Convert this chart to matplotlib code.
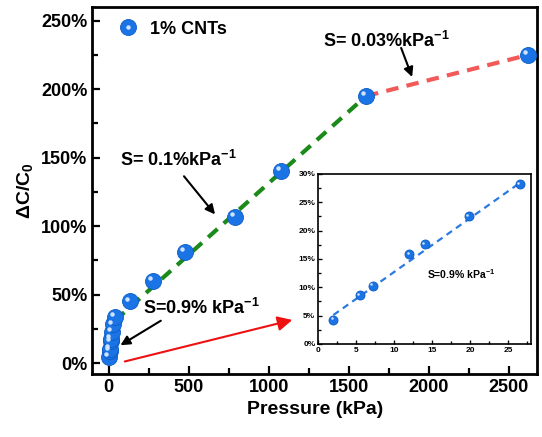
import matplotlib
matplotlib.use('Agg')
import matplotlib.pyplot as plt
from matplotlib.lines import Line2D
from matplotlib.legend_handler import HandlerTuple
from matplotlib.ticker import FuncFormatter, MultipleLocator
from matplotlib.transforms import offset_copy

plt.rcParams['font.family'] = ['Liberation Sans', 'DejaVu Sans']
plt.rcParams['font.weight'] = 'bold'
plt.rcParams['mathtext.fontset'] = 'custom'
plt.rcParams['mathtext.rm'] = 'Liberation Sans:bold'
plt.rcParams['mathtext.bf'] = 'Liberation Sans:bold'
plt.rcParams['mathtext.it'] = 'Liberation Sans:bold'

# low-pressure region (also shown in the inset)
low_p = [2, 5.5, 7.2, 12, 14, 19.8, 26.5]
low_c = [4.2, 8.6, 10.2, 15.8, 17.6, 22.5, 28.2]
# higher pressure points
high_p = [40, 134, 275, 478, 790, 1078, 1609, 2622]
high_c = [34, 45, 60, 81, 107, 140, 195, 225]

# fitted segments (endpoints)
fit_mid_p = [40, 1609]
fit_mid_c = [31, 195]
fit_high_p = [1609, 2622]
fit_high_c = [195, 225]
fit_low_p = [2, 26.5]
fit_low_c = [5.1, 28.4]

BLUE = '#1a74e6'
EDGE = '#0d5cc4'
HILITE = '#cfe3ff'


def spheres(ax, fig, x, y, ms):
    ax.plot(x, y, 'o', ms=ms, color=BLUE, mec=EDGE, mew=0.6, zorder=5)
    tr = offset_copy(ax.transData, fig=fig, x=-ms * 0.18, y=ms * 0.18, units='points')
    ax.plot(x, y, 'o', ms=ms * 0.28, color=HILITE, mew=0, transform=tr, zorder=6)


def style_axes(ax, lw, major_len, minor_len, size):
    for s in ax.spines.values():
        s.set_linewidth(lw)
    ax.tick_params(which='both', direction='in', width=lw * 0.8, top=False, right=False)
    ax.tick_params(which='major', length=major_len, labelsize=size)
    ax.tick_params(which='minor', length=minor_len)
    for lab in ax.get_xticklabels() + ax.get_yticklabels():
        lab.set_fontweight('bold')


fig = plt.figure(figsize=(5.42, 4.37), dpi=100)
ax = fig.add_axes([0.170, 0.144, 0.821, 0.840])

ax.plot(fit_mid_p, fit_mid_c, '--', color='#1b8a1b', lw=3, dashes=(3, 2), zorder=3)
ax.plot(fit_high_p, fit_high_c, '--', color='#f25a5a', lw=3, dashes=(3, 2), zorder=3)
spheres(ax, fig, low_p, low_c, 11.5)
spheres(ax, fig, high_p, high_c, 11.5)

ax.set_xlim(-103, 2678)
ax.set_ylim(-8, 260)
ax.xaxis.set_major_locator(MultipleLocator(500))
ax.xaxis.set_minor_locator(MultipleLocator(250))
ax.yaxis.set_major_locator(MultipleLocator(50))
ax.yaxis.set_minor_locator(MultipleLocator(25))
ax.yaxis.set_major_formatter(FuncFormatter(lambda v, p: f'{v:.0f}%'))
style_axes(ax, 2, 6, 4, 13)
ax.set_xlabel('Pressure (kPa)', fontsize=14, fontweight='bold')
ax.set_ylabel(r'ΔC/C$_0$', fontsize=14, fontweight='bold', labelpad=4)

h1 = Line2D([], [], ls='', marker='o', ms=11.5, color=BLUE, mec=EDGE, mew=0.6)
h2 = Line2D([], [], ls='', marker='o', ms=3.2, color=HILITE, mew=0)
ax.legend([(h1, h2)], ['1% CNTs'], handler_map={tuple: HandlerTuple(ndivide=1)},
          loc='center left', bbox_to_anchor=(0.02, 0.94), frameon=False,
          prop={'size': 13, 'weight': 'bold'}, handletextpad=0.6, handlelength=1.2)

arrow = dict(arrowstyle='-|>', color='black', lw=1.5, mutation_scale=14)
ax.text(72, 148, r'S= 0.1%kPa$^{-1}$', fontsize=13, fontweight='bold', va='center')
ax.annotate('', xy=(676, 107), xytext=(460, 138), arrowprops=arrow)
ax.text(1340, 235, r'S= 0.03%kPa$^{-1}$', fontsize=13, fontweight='bold', va='center')
ax.annotate('', xy=(1903, 207), xytext=(1822, 232), arrowprops=arrow)
ax.text(216, 40, r'S=0.9% kPa$^{-1}$', fontsize=13, fontweight='bold', va='center')
ax.annotate('', xy=(59, 12), xytext=(341, 32), arrowprops=arrow)
ax.annotate('', xy=(1165, 32), xytext=(84, 0.7),
            arrowprops=dict(arrowstyle='-|>', color='#ee1111', lw=1.5, mutation_scale=22),
            annotation_clip=False)

# inset
ins = fig.add_axes([0.587, 0.213, 0.393, 0.389])
ins.plot(fit_low_p, fit_low_c, '--', color='#2a7ae0', lw=1.6, dashes=(3, 2.2), zorder=3)
spheres(ins, fig, low_p, low_c, 6.5)
ins.set_xlim(0, 28)
ins.set_ylim(0, 30)
ins.xaxis.set_major_locator(MultipleLocator(5))
ins.xaxis.set_minor_locator(MultipleLocator(2.5))
ins.yaxis.set_major_locator(MultipleLocator(5))
ins.yaxis.set_minor_locator(MultipleLocator(2.5))
ins.yaxis.set_major_formatter(FuncFormatter(lambda v, p: f'{v:.0f}%'))
style_axes(ins, 1.2, 3, 2, 6)
ins.tick_params(pad=2)
ins.text(14.3, 12.3, r'S=0.9% kPa$^{-1}$', fontsize=7.5, fontweight='bold', va='center')

fig.savefig('out.png', dpi=100)
